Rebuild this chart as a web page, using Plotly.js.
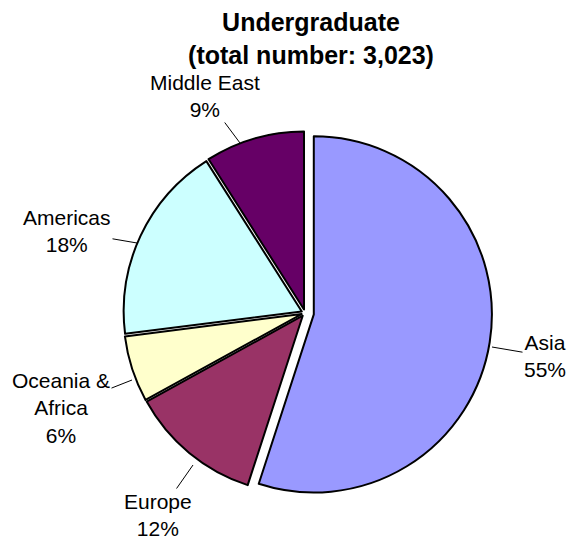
<!DOCTYPE html>
<html>
<head>
<meta charset="utf-8">
<script src="https://cdn.plot.ly/plotly-3.0.1.min.js"></script>
<style>html,body{margin:0;padding:0;background:#fff;}#chart{width:571px;height:542px;}</style>
</head>
<body>
<div id="chart"></div>
<script>
// Data (percent shares)
var categories = ['Asia', 'Europe', 'Oceania & Africa', 'Americas', 'Middle East'];
var shares = [55, 12, 6, 18, 9];
var colors = ['#9999FF', '#993366', '#FFFFCC', '#CCFFFF', '#660066'];
var pulls = [0.05, 0.02, 0.02, 0.02, 0.02];
var titleText = 'Undergraduate<br>(total number: 3,023)';

// Label placement (layout only): leader tip in px, label offset in px
var tipPx = [[492, 347], [193, 465], [132, 380], [137, 243], [240, 143]];
var offPx = [[53, 9], [-35, 50], [-71, 28], [-70, -12], [-35, -47]];

var W = 571, H = 542;
var total = shares.reduce(function (a, b) { return a + b; }, 0);

var annotations = categories.map(function (c, i) {
  var pct = Math.round(shares[i] / total * 100);
  return {
    text: c.replace(' & ', ' &<br>') + '<br>' + pct + '%',
    xref: 'paper', yref: 'paper',
    x: tipPx[i][0] / W, y: 1 - tipPx[i][1] / H,
    ax: offPx[i][0], ay: offPx[i][1],
    showarrow: true, arrowhead: 0, arrowwidth: 1, arrowcolor: '#000',
    standoff: 0, startstandoff: 0,
    font: {family: 'Liberation Sans, Arial, sans-serif', size: 21, color: '#000'},
    align: 'center'
  };
});

var trace = {
  type: 'pie',
  labels: categories,
  values: shares,
  sort: false,
  direction: 'clockwise',
  rotation: 0,
  pull: pulls,
  marker: {colors: colors, line: {color: '#000', width: 2}},
  textinfo: 'none',
  hoverinfo: 'none',
  domain: {x: [118 / W, 492 / W], y: [42 / H, 416 / H]}
};

var layout = {
  width: W, height: H,
  margin: {l: 0, r: 0, t: 0, b: 0},
  paper_bgcolor: '#fff',
  showlegend: false,
  title: {
    text: '<b>' + titleText + '</b>',
    x: 311 / W, xanchor: 'center', xref: 'paper',
    y: 1 - 31 / H, yanchor: 'top', yref: 'container',
    font: {family: 'Liberation Sans, Arial, sans-serif', size: 25, color: '#000'}
  },
  annotations: annotations
};

Plotly.newPlot('chart', [trace], layout, {staticPlot: true, displayModeBar: false});
</script>
</body>
</html>
